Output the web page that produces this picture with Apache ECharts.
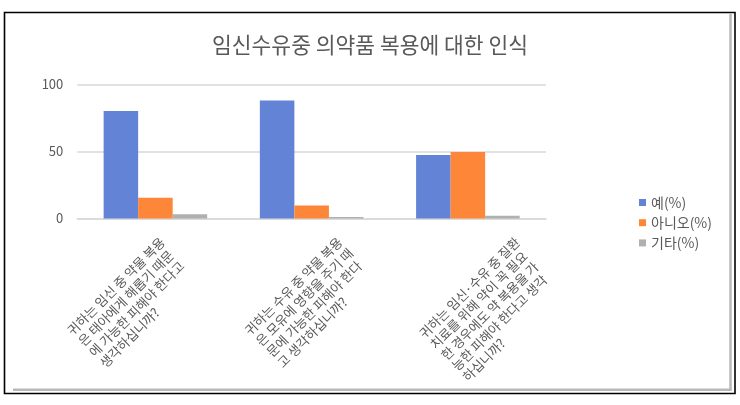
<!DOCTYPE html>
<html><head><meta charset="utf-8">
<script src="https://cdn.jsdelivr.net/npm/echarts@6/dist/echarts.min.js"></script>
<style>html,body{margin:0;padding:0;background:#fff}#c{width:740px;height:405px}</style>
</head><body><div id="c"></div>
<script>
const chartTitle = '임신수유중 의약품 복용에 대한 인식';
const categories = [
  '귀하는 임신 중 약물 복용\n은 태아에게 해롭기 때문\n에 가능한 피해야 한다고\n생각하십니까?',
  '귀하는 수유 중 약물 복용\n은 모유에 영향을 주기 때\n문에 가능한 피해야 한다\n고 생각하십니까?',
  '귀하는 임신·수유 중 질환\n치료를 위해 약이 꼭 필요\n한 경우에도 약 복용을 가\n능한 피해야 한다고 생각\n하십니까?'
];
const seriesNames = ['예(%)', '아니오(%)', '기타(%)'];
const yesValues = [80.2, 88.0, 47.3];
const noValues = [15.5, 9.7, 49.6];
const otherValues = [3.2, 1.2, 2.1];
const yMin = 0, yMax = 100, yStep = 50;

const FONT = "'Noto Sans CJK KR', 'Noto Sans', sans-serif";
const TXT = '#595959';
const colors = ['#6383d6', '#fe8639', '#b0b0b0'];

const chart = echarts.init(document.getElementById('c'), null, {renderer: 'canvas'});
const gridTop = 84.5, gridBottom = 405 - 218.5;

chart.setOption({
  animation: false,
  backgroundColor: '#ffffff',
  title: {
    text: chartTitle, left: 'center', top: 32.5, padding: 0,
    textStyle: {fontFamily: FONT, fontSize: 21.5, fontWeight: 'normal', color: TXT, lineHeight: 25}
  },
  legend: {
    orient: 'vertical', left: 639, top: 195, padding: 0,
    itemWidth: 7, itemHeight: 7, itemGap: 5.2, icon: 'rect',
    textStyle: {fontFamily: FONT, fontSize: 14, color: TXT, lineHeight: 15},
    data: seriesNames
  },
  grid: [
    {left: 77.3, right: 740 - 546, top: gridTop, bottom: gridBottom, outerBoundsMode: 'none', containLabel: false},
    {left: 68.25, right: 740 - 600.75, top: gridTop, bottom: gridBottom, outerBoundsMode: 'none', containLabel: false}
  ],
  xAxis: [
    {
      type: 'category', gridIndex: 0, data: categories,
      axisLine: {show: true, lineStyle: {color: '#d9d9d9', width: 1.5}},
      axisTick: {show: false}, axisLabel: {show: false}
    },
    {
      type: 'category', gridIndex: 1, data: categories,
      axisLine: {show: false}, axisTick: {show: false}, splitLine: {show: false},
      axisLabel: {
        show: true, interval: 0, rotate: 45, margin: 16,
        align: 'right', verticalAlign: 'top', hideOverlap: false,
        formatter: function (v) {
          return v.split('\n').map(function (s) { return '{a|' + s + '}'; }).join('\n');
        },
        rich: {a: {align: 'left', fontFamily: FONT, fontSize: 13, lineHeight: 15.3, color: TXT}}
      }
    }
  ],
  yAxis: [
    {
      type: 'value', gridIndex: 0, min: yMin, max: yMax, interval: yStep,
      axisLine: {show: false}, axisTick: {show: false},
      axisLabel: {margin: 14, fontFamily: FONT, fontSize: 13, color: TXT},
      splitLine: {lineStyle: {color: '#d9d9d9', width: 1.5}}
    },
    {type: 'value', gridIndex: 1, min: yMin, max: yMax, show: false}
  ],
  series: [
    {name: seriesNames[0], type: 'bar', xAxisIndex: 0, yAxisIndex: 0, data: yesValues,
     barGap: '0%', barCategoryGap: '33.7%', itemStyle: {color: colors[0]}},
    {name: seriesNames[1], type: 'bar', xAxisIndex: 0, yAxisIndex: 0, data: noValues,
     barGap: '0%', barCategoryGap: '33.7%', itemStyle: {color: colors[1]}},
    {name: seriesNames[2], type: 'bar', xAxisIndex: 0, yAxisIndex: 0, data: otherValues,
     barGap: '0%', barCategoryGap: '33.7%', itemStyle: {color: colors[2]}}
  ],
  graphic: [
    {type: 'rect', silent: true, z: 100,
     shape: {x: 4.5, y: 12.5, width: 730.5, height: 381},
     style: {fill: 'none', stroke: '#000000', lineWidth: 1.6}},
    {type: 'line', silent: true, z: 99,
     shape: {x1: 730.5, y1: 14, x2: 730.5, y2: 390.5},
     style: {stroke: '#b8b8b8', lineWidth: 2.5}},
    {type: 'line', silent: true, z: 99,
     shape: {x1: 13, y1: 389.8, x2: 731.7, y2: 389.8},
     style: {stroke: '#b8b8b8', lineWidth: 2.5}}
  ]
});
</script>
</body></html>
